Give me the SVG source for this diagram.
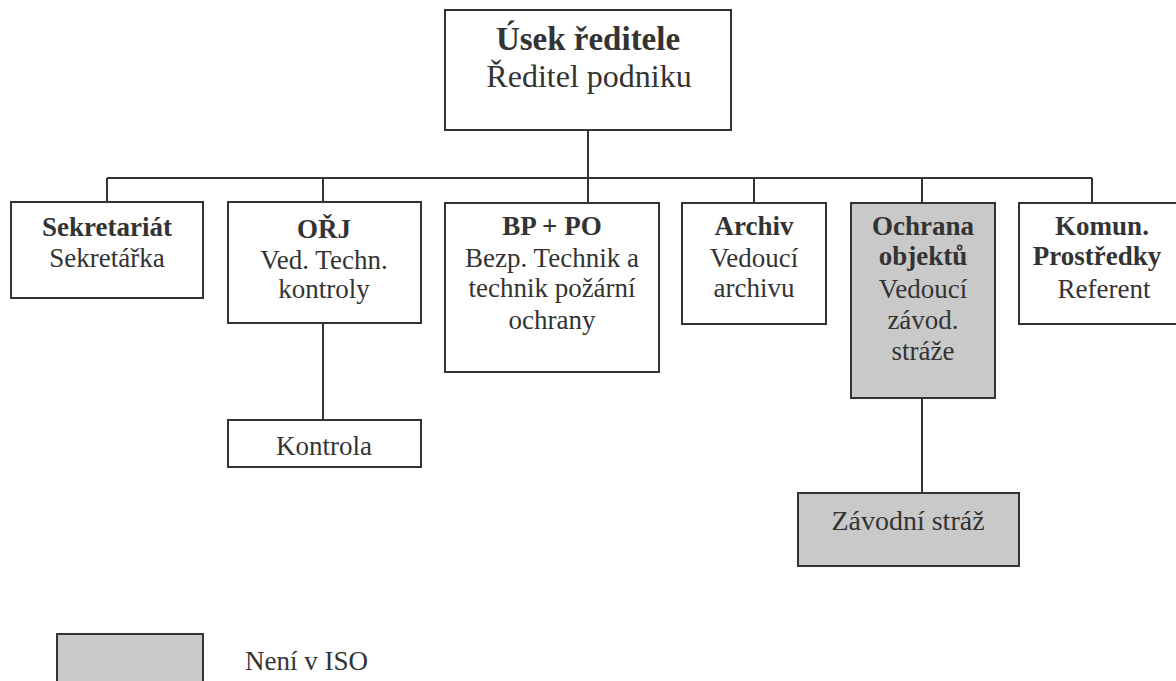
<svg xmlns="http://www.w3.org/2000/svg" width="1176" height="681" viewBox="0 0 1176 681">
<style>
.box{fill:#fff;stroke:#333;stroke-width:2}
.grey{fill:#c9c9c9;stroke:#333;stroke-width:2}
.ln{stroke:#333;stroke-width:2;fill:none}
text{font-family:"Liberation Serif","Times New Roman",serif;font-size:27px;fill:#333;text-anchor:middle}
.b{font-weight:bold}
.t1{font-size:33px}
.t2{font-size:32px}
</style>
<rect width="1176" height="681" fill="#fff"/>
<g id="connectors">
<path class="ln" d="M588 130V178M107 178H1092M107 178V202M323 178V202M588 178V203M754 178V203M922 178V203M1092 178V203M323 323V420M922 398V493"/>
</g>
<g id="n-reditel"><rect class="box" x="445" y="10" width="286" height="120"/>
<text x="588" y="50" class="b t1">Úsek ředitele</text><text x="589" y="87" class="t2">Ředitel podniku</text></g>
<g id="n-sekretariat"><rect class="box" x="11" y="202" width="192" height="96"/>
<text x="107" y="236" class="b">Sekretariát</text><text x="107" y="267">Sekretářka</text></g>
<g id="n-orj"><rect class="box" x="228" y="202" width="193" height="121"/>
<text x="324" y="238" class="b">OŘJ</text><text x="324" y="269">Ved. Techn.</text><text x="324" y="298">kontroly</text></g>
<g id="n-kontrola"><rect class="box" x="228" y="420" width="193" height="47"/>
<text x="324" y="455">Kontrola</text></g>
<g id="n-bppo"><rect class="box" x="445" y="203" width="214" height="169"/>
<text x="552" y="235" class="b">BP + PO</text><text x="552" y="267">Bezp. Technik a</text><text x="552" y="297">technik požární</text><text x="552" y="329">ochrany</text></g>
<g id="n-archiv"><rect class="box" x="682" y="203" width="144" height="121"/>
<text x="754" y="235" class="b">Archiv</text><text x="754" y="267">Vedoucí</text><text x="754" y="297">archivu</text></g>
<g id="n-ochrana"><rect class="grey" x="851" y="203" width="144" height="195"/>
<text x="923" y="235" class="b">Ochrana</text><text x="923" y="265" class="b">objektů</text><text x="923" y="298">Vedoucí</text><text x="923" y="329">závod.</text><text x="923" y="360">stráže</text></g>
<g id="n-komun"><rect class="box" x="1019" y="203" width="170" height="121"/>
<text x="1102" y="235" class="b">Komun.</text><text x="1097" y="265" class="b">Prostředky</text><text x="1104" y="298">Referent</text></g>
<g id="n-zavodni"><rect class="grey" x="798" y="493" width="221" height="73"/>
<text x="908" y="530" style="font-size:28px">Závodní stráž</text></g>
<g id="legend"><rect class="grey" x="57" y="634" width="146" height="60"/>
<text x="245" y="670" style="text-anchor:start">Není v ISO</text></g>
</svg>
